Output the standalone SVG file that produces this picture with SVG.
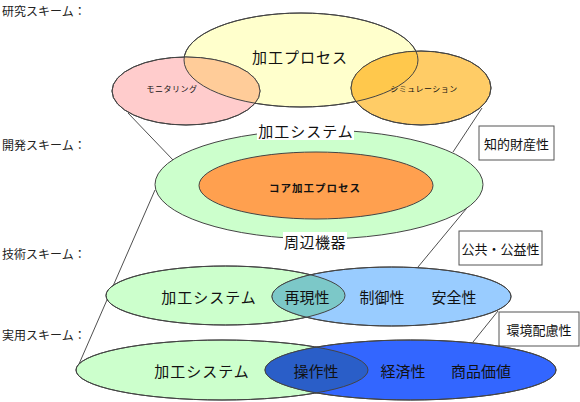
<svg xmlns="http://www.w3.org/2000/svg" width="580" height="402" viewBox="0 0 580 402">
<style>
.e{stroke:#444;stroke-width:1}
.ln{stroke:#222;stroke-width:0.8;fill:none}
.t{font-family:"Noto Sans CJK JP","Noto Sans",sans-serif;fill:#111;text-anchor:middle;dominant-baseline:central}
.lab{font-family:"Noto Sans CJK JP","Noto Sans",sans-serif;fill:#222;font-size:12px;dominant-baseline:central}
.box{fill:#fff;stroke:#555;stroke-width:1}
</style>
<defs>
<clipPath id="cY"><ellipse cx="301" cy="60" rx="117" ry="47"/></clipPath>
<clipPath id="cG3"><ellipse cx="225.5" cy="295.5" rx="119.5" ry="29.5"/></clipPath>
<clipPath id="cG4"><ellipse cx="222" cy="370" rx="146" ry="30"/></clipPath>
</defs>
<rect width="580" height="402" fill="#fff"/>
<g id="labels">
<text class="lab" x="2" y="10">研究スキーム：</text>
<text class="lab" x="2" y="144">開発スキーム：</text>
<text class="lab" x="2" y="253">技術スキーム：</text>
<text class="lab" x="2" y="334">実用スキーム：</text>
</g>
<g id="connectors">
<line class="ln" x1="128" y1="113" x2="173" y2="160"/>
<line class="ln" x1="482" y1="108" x2="453" y2="152"/>
<line class="ln" x1="155" y1="190" x2="79" y2="364"/>
<line class="ln" x1="476" y1="197" x2="418" y2="267"/>
<line class="ln" x1="498" y1="311" x2="473" y2="342"/>
</g>
<g id="research">
<ellipse class="e" cx="301" cy="60" rx="117" ry="47" fill="#FFFFCC"/>
<ellipse class="e" cx="186" cy="91" rx="74" ry="34" fill="#FFCCCC"/>
<ellipse class="e" cx="421" cy="88" rx="70" ry="37" fill="#FFCC66"/>
<ellipse cx="186" cy="91" rx="74" ry="34" fill="#FFCC99" clip-path="url(#cY)"/>
<ellipse cx="421" cy="88" rx="70" ry="37" fill="#FFC84C" clip-path="url(#cY)"/>
<ellipse cx="301" cy="60" rx="117" ry="47" fill="none" stroke="#444"/>
<ellipse cx="186" cy="91" rx="74" ry="34" fill="none" stroke="#444"/>
<ellipse cx="421" cy="88" rx="70" ry="37" fill="none" stroke="#444"/>
<text class="t" x="300" y="56" font-size="15" letter-spacing="1">加工プロセス</text>
<text class="t" x="172" y="88" font-size="8" letter-spacing="0.5">モニタリング</text>
<text class="t" x="424" y="88" font-size="8" letter-spacing="0.5">シミュレーション</text>
</g>
<g id="development">
<ellipse class="e" cx="319" cy="184.5" rx="164" ry="54.5" fill="#CCFFCC"/>
<ellipse class="e" cx="316" cy="185.5" rx="117" ry="33.5" fill="#FFA04F"/>
<rect x="257" y="121" width="97" height="19" fill="#fff"/>
<text class="t" x="306" y="130" font-size="15" letter-spacing="1">加工システム</text>
<rect x="283" y="232" width="64" height="18" fill="#fff"/>
<text class="t" x="315" y="241" font-size="15" letter-spacing="0.5">周辺機器</text>
<text class="t" x="315" y="187" font-size="10.5" font-weight="bold" letter-spacing="1">コア加工プロセス</text>
</g>
<g id="box1">
<rect class="box" x="479" y="126" width="75" height="34"/>
<text class="t" x="516.5" y="143" font-size="13">知的財産性</text>
</g>
<g id="box2">
<rect class="box" x="459" y="231" width="83" height="34"/>
<text class="t" x="500.5" y="248" font-size="13">公共・公益性</text>
</g>
<g id="box3">
<rect class="box" x="499" y="312" width="80" height="34"/>
<text class="t" x="539" y="329" font-size="13">環境配慮性</text>
</g>
<g id="technical">
<ellipse class="e" cx="225.5" cy="295.5" rx="119.5" ry="29.5" fill="#CCFFCC"/>
<ellipse class="e" cx="391.5" cy="296.5" rx="119.5" ry="29.5" fill="#99CCFF"/>
<ellipse cx="391.5" cy="296.5" rx="119.5" ry="29.5" fill="#7CC8C8" clip-path="url(#cG3)"/>
<ellipse cx="225.5" cy="295.5" rx="119.5" ry="29.5" fill="none" stroke="#444"/>
<ellipse cx="391.5" cy="296.5" rx="119.5" ry="29.5" fill="none" stroke="#444"/>
<text class="t" x="209" y="296" font-size="15" letter-spacing="1">加工システム</text>
<text class="t" x="307" y="296" font-size="15">再現性</text>
<text class="t" x="382" y="296" font-size="15">制御性</text>
<text class="t" x="454" y="296" font-size="15">安全性</text>
</g>
<g id="practical">
<ellipse class="e" cx="222" cy="370" rx="146" ry="30" fill="#CCFFCC"/>
<ellipse class="e" cx="410.5" cy="370" rx="145.5" ry="30" fill="#3366FF"/>
<ellipse cx="410.5" cy="370" rx="145.5" ry="30" fill="#2A5EC8" clip-path="url(#cG4)"/>
<ellipse cx="222" cy="370" rx="146" ry="30" fill="none" stroke="#444"/>
<ellipse cx="410.5" cy="370" rx="145.5" ry="30" fill="none" stroke="#444"/>
<text class="t" x="202" y="370" font-size="15" letter-spacing="1">加工システム</text>
<text class="t" x="316" y="370" font-size="15">操作性</text>
<text class="t" x="403" y="370" font-size="15">経済性</text>
<text class="t" x="481" y="370" font-size="15">商品価値</text>
</g>
</svg>
